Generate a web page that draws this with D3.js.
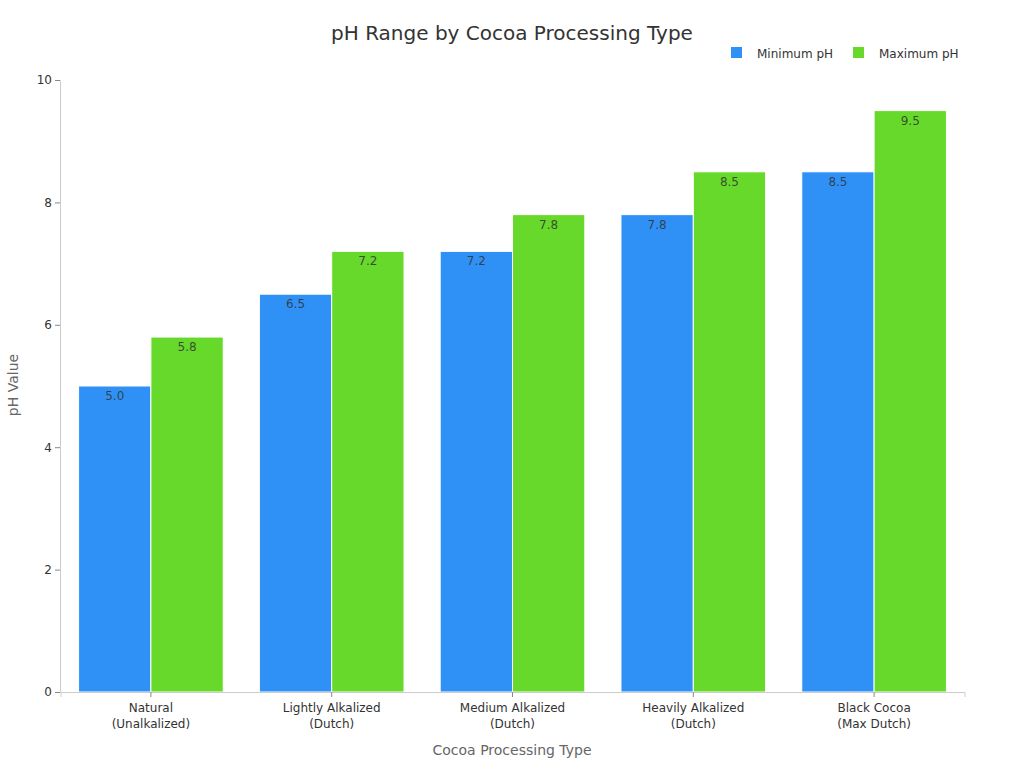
<!DOCTYPE html>
<html><head><meta charset="utf-8">
<script src="https://cdn.jsdelivr.net/npm/d3@7"></script>
<style>body{margin:0;background:#fff;} svg text{font-family:"DejaVu Sans",sans-serif;}</style>
</head><body><svg id="c" width="1024" height="768" font-family="DejaVu Sans"></svg>
<script>
const categories = [["Natural","(Unalkalized)"],["Lightly Alkalized","(Dutch)"],["Medium Alkalized","(Dutch)"],["Heavily Alkalized","(Dutch)"],["Black Cocoa","(Max Dutch)"]];
const minPH = [5.0, 6.5, 7.2, 7.8, 8.5];
const maxPH = [5.8, 7.2, 7.8, 8.5, 9.5];
const seriesNames = ["Minimum pH", "Maximum pH"];
const colors = ["#2f91f6", "#66d92a"];
const yTicks = [0, 2, 4, 6, 8, 10];

const svg = d3.select("#c");
const m = {l:60, r:60, t:80, b:76};
const W = 1024, H = 768;
const keys = categories.map((d,i)=>i);
const x = d3.scaleBand().domain(keys).range([m.l+0.5, W-m.r+0.5]).paddingInner(0.2).paddingOuter(0.1);
const x1 = d3.scaleBand().domain([0,1]).range([0, x.bandwidth()]);
const y = d3.scaleLinear().domain([0,10]).range([H-m.b, m.t]);

// axes
const ya = svg.append("g").attr("transform",`translate(${m.l},0)`)
  .call(d3.axisLeft(y).tickValues(yTicks).tickSize(5).tickPadding(3));
ya.attr("font-family","DejaVu Sans");
ya.select(".domain").attr("stroke","#ccc");
ya.selectAll(".tick line").attr("stroke","#888");
ya.selectAll("text").attr("font-size",12).attr("fill","#333");

const series = [minPH, maxPH];
series.forEach((vals, s) => {
  svg.append("g").selectAll("rect").data(vals).join("rect")
    .attr("x",(d,i)=>x(i)+x1(s))
    .attr("y",d=>y(d))
    .attr("width",x1.bandwidth())
    .attr("height",d=>y(0)-y(d))
    .attr("fill",colors[s])
    .attr("stroke","#fff").attr("stroke-width",1);
  svg.append("g").selectAll("text").data(vals).join("text")
    .attr("x",(d,i)=>x(i)+x1(s)+x1.bandwidth()/2)
    .attr("y",d=>y(d)+14)
    .attr("text-anchor","middle")
    .attr("font-size",12).attr("fill","#333").attr("fill-opacity",0.85)
    .text(d=>d.toFixed(1));
});

const xa = svg.append("g").attr("transform",`translate(0,${H-m.b})`)
  .call(d3.axisBottom(x).tickSize(5).tickFormat(""));
xa.attr("font-family","DejaVu Sans");
xa.select(".domain").attr("stroke","#ccc");
xa.selectAll(".tick line").attr("stroke","#888");
xa.selectAll(".tick").append("text")
  .attr("fill","#333").attr("font-size",12).attr("text-anchor","middle")
  .selectAll("tspan").data(i=>categories[i]).join("tspan")
  .attr("x",0).attr("y",(d,j)=>20+j*16).text(d=>d);

// titles
svg.append("text").attr("x",512).attr("y",40).attr("text-anchor","middle")
  .attr("font-size",20).attr("fill","#333").text("pH Range by Cocoa Processing Type");
svg.append("text").attr("x",512).attr("y",755).attr("text-anchor","middle")
  .attr("font-size",14).attr("fill","#666").text("Cocoa Processing Type");
svg.append("text").attr("transform","translate(18,385) rotate(-90)").attr("text-anchor","middle")
  .attr("font-size",14).attr("fill","#666").text("pH Value");

// legend
const lg = svg.append("g");
const lx = [731, 853];
seriesNames.forEach((n,i)=>{
  lg.append("rect").attr("x",lx[i]).attr("y",47).attr("width",11).attr("height",11).attr("fill",colors[i]);
  lg.append("text").attr("x",lx[i]+26).attr("y",57.5).attr("font-size",12).attr("fill","#333").text(n);
});
</script></body></html>
